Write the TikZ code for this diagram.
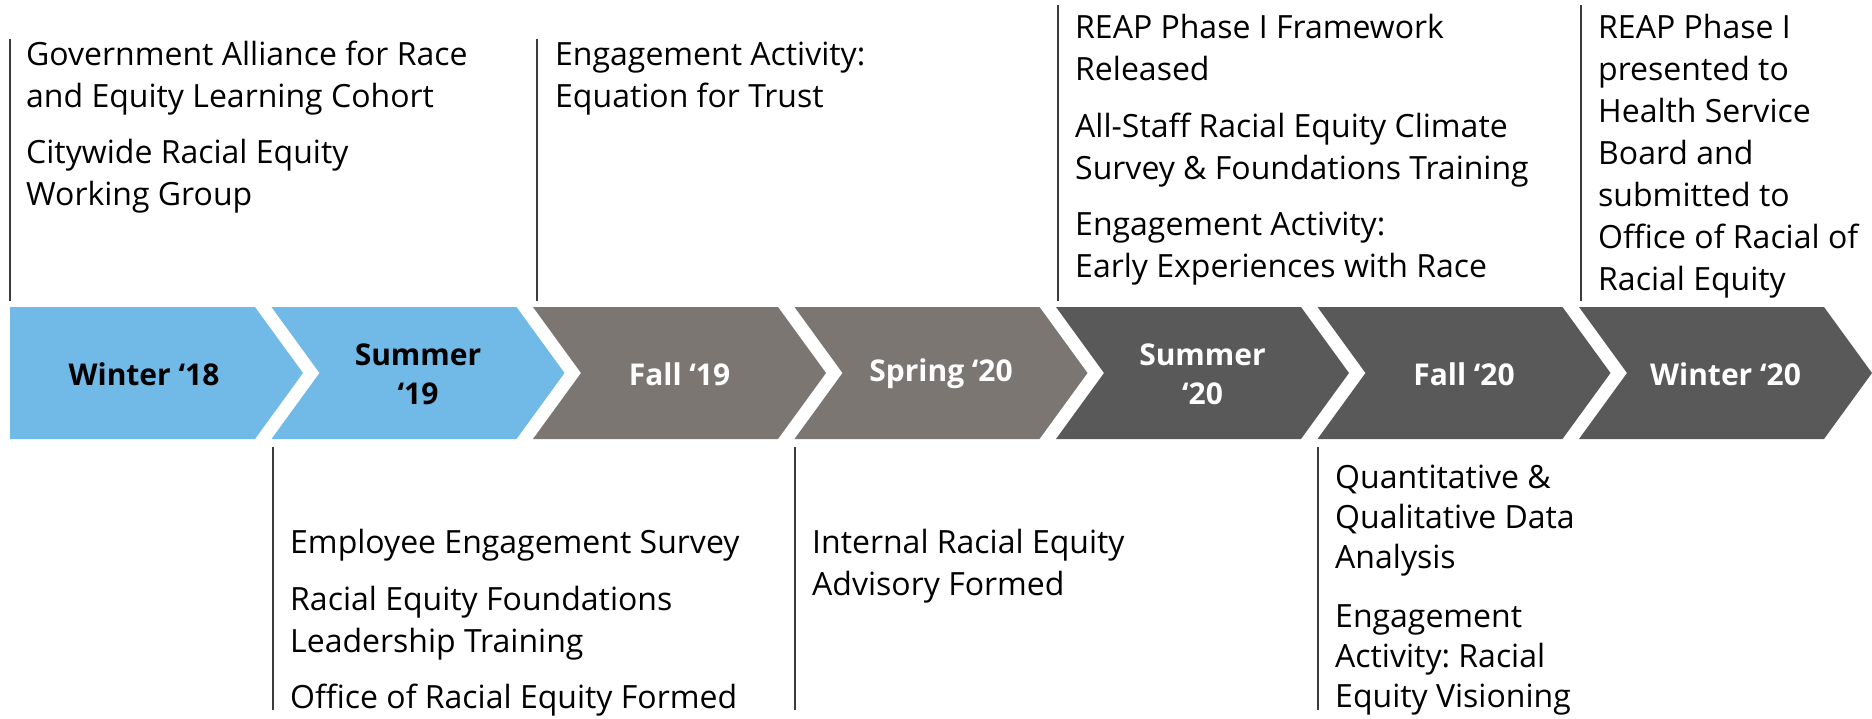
\documentclass[tikz,border=0pt]{standalone}
\usepackage{fontspec}
\setmainfont{Open Sans}
\definecolor{cblue}{RGB}{113,185,230}
\definecolor{cmid}{RGB}{123,118,114}
\definecolor{cdark}{RGB}{89,89,89}
\definecolor{cline}{RGB}{60,60,60}
\newcommand\chevN[2]{\fill[#2] (#1,307) -- ++(245,0) -- ++(48,66) -- ++(-48,66) -- ++(-245,0) -- ++(48,-66) -- cycle;}
\frenchspacing
\begin{document}
\begin{tikzpicture}[x=1pt,y=-1pt,
  txt/.style={anchor=north west, inner sep=0pt, align=left, font=\fontsize{32}{42}\selectfont},
  lab/.style={inner sep=0pt, align=center, font=\bfseries\fontsize{30}{39}\selectfont},
  lead/.style={draw=cline, line width=1.4pt}]
\useasboundingbox (0,0) rectangle (1872,718);
% chevrons
\fill[cblue] (10,307) -- (255,307) -- (303,373) -- (255,439) -- (10,439) -- cycle;
\chevN{271.5}{cblue}
\chevN{533}{cmid}
\chevN{794.5}{cmid}
\chevN{1056}{cdark}
\chevN{1317.5}{cdark}
\chevN{1579}{cdark}
% labels
\node[lab, text=black] (c0) at (144,374) {Winter ‘18};
\node[lab, text=black] (c1) at (418,374) {Summer\\‘19};
\node[lab, text=white] (c2) at (679.5,374) {Fall ‘19};
\node[lab, text=white] (c3) at (941,374) {Spring ‘20};
\node[lab, text=white] (c4) at (1202.5,374) {Summer\\‘20};
\node[lab, text=white] (c5) at (1464,374) {Fall ‘20};
\node[lab, text=white] (c6) at (1725.5,374) {Winter ‘20};
% lead lines
\coordinate (t1a) at (10,39);   \coordinate (t1b) at (10,301);
\coordinate (t2a) at (537,39);  \coordinate (t2b) at (537,301);
\coordinate (t3a) at (1058,5);  \coordinate (t3b) at (1058,301);
\coordinate (t4a) at (1581,5);  \coordinate (t4b) at (1581,301);
\coordinate (b1a) at (273,447); \coordinate (b1b) at (273,710);
\coordinate (b2a) at (795,447); \coordinate (b2b) at (795,710);
\coordinate (b3a) at (1318,447);\coordinate (b3b) at (1318,710);
\draw[lead] (t1a) -- (t1b);
\draw[lead] (t2a) -- (t2b);
\draw[lead] (t3a) -- (t3b);
\draw[lead] (t4a) -- (t4b);
\draw[lead] (b1a) -- (b1b);
\draw[lead] (b2a) -- (b2b);
\draw[lead] (b3a) -- (b3b);
% texts
\node[txt] (T1) at (26,36) {\strut Government Alliance for Race\\and Equity Learning Cohort\\[14pt]Citywide Racial Equity\\Working Group};
\node[txt] (T2) at (555,36) {\strut Engagement Activity:\\Equation for Trust};
\node[txt] (T3) at (1075,9) {\strut REAP Phase I Framework\\Released\\[15pt]All-Staff Racial Equity Climate\\Survey \& Foundations Training\\[14pt]Engagement Activity:\\Early Experiences with Race};
\node[txt] (T4) at (1598,9) {\strut REAP Phase I\\presented to\\Health Service\\Board and\\submitted to\\Office of Racial of\\Racial Equity};
\node[txt] (B1) at (290,524) {\strut Employee Engagement Survey\\[15pt]Racial Equity Foundations\\Leadership Training\\[14pt]Office of Racial Equity Formed};
\node[txt] (B2) at (812,524) {\strut Internal Racial Equity\\Advisory Formed};
\node[txt, font=\fontsize{32}{40}\selectfont] (B3) at (1335,460) {\strut Quantitative \&\\Qualitative Data\\Analysis\\[19pt]Engagement\\Activity: Racial\\Equity Visioning};
\end{tikzpicture}
\end{document}
